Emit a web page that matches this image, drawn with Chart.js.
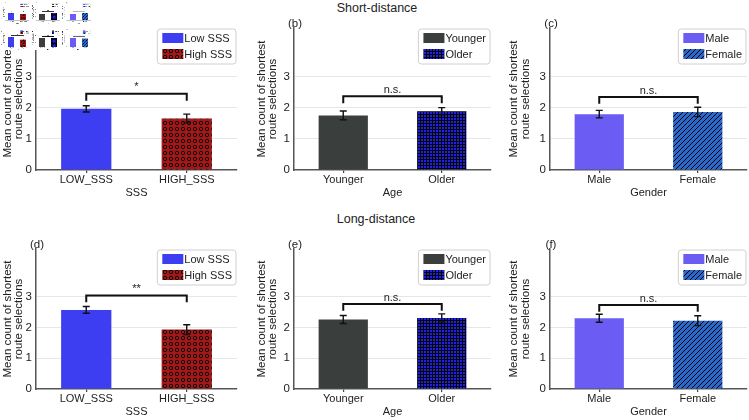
<!DOCTYPE html>
<html>
<head>
<meta charset="utf-8">
<script src="https://cdn.jsdelivr.net/npm/chart.js@4.4.1/dist/chart.umd.min.js"></script>
<style>
  html, body { margin: 0; padding: 0; background: #fff; }
  #fig { position: relative; width: 749px; height: 420px; overflow: hidden; }
  #fig canvas { position: absolute; }
  .rowTitle { position: absolute; font: 12.5px 'Liberation Sans', Arial, sans-serif; color: #222;
              line-height: 16px; transform: translateX(-50%); white-space: nowrap; }
</style>
</head>
<body>
<div id="fig">
  <div class="rowTitle" style="left:377px; top:0px;">Short-distance</div>
  <div class="rowTitle" style="left:376px; top:211px;">Long-distance</div>
</div>
<script>
// categories / legend names
var sssLabels = ['LOW_SSS', 'HIGH_SSS'];
var ageLabels = ['Younger', 'Older'];
var genderLabels = ['Male', 'Female'];
var sssLegend = ['Low SSS', 'High SSS'];
var ageLegend = ['Younger', 'Older'];
var genderLegend = ['Male', 'Female'];
var axisNames = ['SSS', 'Age', 'Gender'];
var panelLetters = ['(a)', '(b)', '(c)', '(d)', '(e)', '(f)'];

// short-distance means and standard errors
var shortSSS = [1.96, 1.65];
var shortSSSErr = [0.10, 0.14];
var shortAge = [1.75, 1.88];
var shortAgeErr = [0.14, 0.12];
var shortGender = [1.79, 1.86];
var shortGenderErr = [0.12, 0.15];

// long-distance means and standard errors
var longSSS = [2.57, 1.93];
var longSSSErr = [0.11, 0.16];
var longAge = [2.26, 2.31];
var longAgeErr = [0.13, 0.13];
var longGender = [2.30, 2.22];
var longGenderErr = [0.13, 0.16];

// significance brackets
var bracketShort = [2.44, 2.36, 2.34];
var bracketLong = [3.04, 2.76, 2.73];
var sigShort = ['*', 'n.s.', 'n.s.'];
var sigLong = ['**', 'n.s.', 'n.s.'];

var yTicks = [0, 1, 2, 3];
var yMax = 4.55;

Chart.defaults.font.family = "'Liberation Sans', Arial, sans-serif";
Chart.defaults.color = '#222';

// fill patterns
var patCtx = document.createElement('canvas').getContext('2d');
function makePattern(bg, size, draw) {
    var c = document.createElement('canvas');
    c.width = size; c.height = size;
    var g = c.getContext('2d');
    g.fillStyle = bg;
    g.fillRect(0, 0, size, size);
    draw(g, size);
    return patCtx.createPattern(c, 'repeat');
}
var dotsPattern = makePattern('#a31818', 6, function (g) {
    g.strokeStyle = '#000'; g.lineWidth = 0.9;
    g.beginPath(); g.arc(3, 3, 1.7, 0, Math.PI * 2); g.stroke();
});
var gridPattern = makePattern('#1f1fe8', 3, function (g) {
    g.fillStyle = '#000';
    g.fillRect(0, 0, 3, 1);
    g.fillRect(0, 0, 1, 3);
});
var diagPattern = makePattern('#2b68cc', 5, function (g) {
    g.strokeStyle = '#000'; g.lineWidth = 1;
    g.beginPath();
    g.moveTo(0, 5); g.lineTo(5, 0);
    g.moveTo(-1, 1); g.lineTo(1, -1);
    g.moveTo(4, 6); g.lineTo(6, 4);
    g.stroke();
});
var sssFills = ['#3d3df2', dotsPattern];
var ageFills = ['#3a3e3d', gridPattern];
var genderFills = ['#6b5df3', diagPattern];

// layout of the six panels
var colLeft = [0, 249, 500];
var colYWidth = [36, 45, 50];
var colPadRight = [12, 7, 2];
var colTitlePad = [2, 7, 8.5];
var rowTop = [0, 215];
var rowHeight = [200, 204];
var rowPadTop = [28, 34];

var panels = [
    {labels: sssLabels, legend: sssLegend, fills: sssFills, means: shortSSS, err: shortSSSErr, bracket: bracketShort[0], sig: sigShort[0]},
    {labels: ageLabels, legend: ageLegend, fills: ageFills, means: shortAge, err: shortAgeErr, bracket: bracketShort[1], sig: sigShort[1]},
    {labels: genderLabels, legend: genderLegend, fills: genderFills, means: shortGender, err: shortGenderErr, bracket: bracketShort[2], sig: sigShort[2]},
    {labels: sssLabels, legend: sssLegend, fills: sssFills, means: longSSS, err: longSSSErr, bracket: bracketLong[0], sig: sigLong[0]},
    {labels: ageLabels, legend: ageLegend, fills: ageFills, means: longAge, err: longAgeErr, bracket: bracketLong[1], sig: sigLong[1]},
    {labels: genderLabels, legend: genderLegend, fills: genderFills, means: longGender, err: longGenderErr, bracket: bracketLong[2], sig: sigLong[2]}
];

// error bars, significance bracket, panel letter, legend box
var extras = {
    id: 'extras',
    afterDraw: function (chart, args, o) {
        var ctx = chart.ctx, area = chart.chartArea;
        var xs = chart.scales.x, ys = chart.scales.y;
        var means = chart.data.datasets[0].data;
        ctx.save();

        ctx.strokeStyle = '#111';
        ctx.lineWidth = 1.4;
        o.err.forEach(function (e, i) {
            var px = xs.getPixelForValue(i);
            var t = ys.getPixelForValue(means[i] + e), b = ys.getPixelForValue(means[i] - e);
            ctx.beginPath();
            ctx.moveTo(px, t); ctx.lineTo(px, b);
            ctx.moveTo(px - 3.5, t); ctx.lineTo(px + 3.5, t);
            ctx.moveTo(px - 3.5, b); ctx.lineTo(px + 3.5, b);
            ctx.stroke();
        });

        var x0 = xs.getPixelForValue(0), x1 = xs.getPixelForValue(1);
        var by = ys.getPixelForValue(o.bracket), ly = ys.getPixelForValue(o.bracket - 0.22);
        ctx.lineWidth = 2;
        ctx.beginPath();
        ctx.moveTo(x0, ly); ctx.lineTo(x0, by); ctx.lineTo(x1, by); ctx.lineTo(x1, ly);
        ctx.stroke();
        ctx.fillStyle = '#222';
        ctx.font = "11px 'Liberation Sans', Arial, sans-serif";
        ctx.textAlign = 'center';
        ctx.textBaseline = 'bottom';
        ctx.fillText(o.sig, (x0 + x1) / 2, by - 1);

        ctx.font = "11.5px 'Liberation Sans', Arial, sans-serif";
        ctx.textBaseline = 'alphabetic';
        ctx.fillText(o.letter, area.left + 1, area.top - 1);

        // legend
        ctx.font = "11px 'Liberation Sans', Arial, sans-serif";
        var tw = Math.max.apply(null, o.legend.map(function (s) { return ctx.measureText(s).width; }));
        var bw = 5 + 21 + 1 + tw + 4, bh = 35;
        var bx = area.right - 1 - bw, bt = area.top + 1;
        ctx.beginPath();
        ctx.roundRect(bx, bt, bw, bh, 3);
        ctx.fillStyle = 'rgba(255,255,255,0.85)';
        ctx.fill();
        ctx.strokeStyle = '#d0d0d0';
        ctx.lineWidth = 1;
        ctx.stroke();
        ctx.textAlign = 'left';
        ctx.textBaseline = 'middle';
        o.legend.forEach(function (s, i) {
            var cy = bt + 9 + i * 16;
            ctx.fillStyle = chart.data.datasets[0].backgroundColor[i];
            ctx.fillRect(bx + 5, cy - 5, 21, 10);
            ctx.fillStyle = '#222';
            ctx.fillText(s, bx + 27, cy + 0.5);
        });
        ctx.restore();
    }
};

var fig = document.getElementById('fig');
var canvases = [];
panels.forEach(function (p, k) {
    var col = k % 3, row = Math.floor(k / 3);
    var cv = document.createElement('canvas');
    cv.width = 249; cv.height = rowHeight[row];
    cv.style.left = colLeft[col] + 'px';
    cv.style.top = rowTop[row] + 'px';
    fig.appendChild(cv);
    canvases.push({cv: cv, x: colLeft[col], y: rowTop[row]});

    new Chart(cv, {
        type: 'bar',
        data: {
            labels: p.labels,
            datasets: [{
                data: p.means,
                backgroundColor: p.fills,
                borderWidth: 0,
                barPercentage: 0.5,
                categoryPercentage: 1.0
            }]
        },
        options: {
            responsive: false,
            animation: false,
            layout: {padding: {top: rowPadTop[row], right: colPadRight[col], bottom: 0.8, left: 0}},
            plugins: {
                legend: {display: false},
                tooltip: {enabled: false},
                extras: {err: p.err, bracket: p.bracket, sig: p.sig, letter: panelLetters[k], legend: p.legend}
            },
            scales: {
                x: {
                    offset: true,
                    grid: {display: true, drawOnChartArea: false, offset: false, tickLength: 3, color: '#444', lineWidth: 1.2},
                    border: {color: '#555', width: 1.5},
                    ticks: {font: {size: 11, lineHeight: 1}, color: '#222', padding: 1},
                    title: {display: true, text: axisNames[col], font: {size: 11, lineHeight: 1.2}, padding: 0, color: '#222'}
                },
                y: {
                    min: 0,
                    max: yMax,
                    afterBuildTicks: function (s) { s.ticks = yTicks.map(function (v) { return {value: v}; }); },
                    afterFit: function (s) { s.width = colYWidth[col]; },
                    ticks: {font: {size: 11.5}, color: '#222', padding: 4},
                    grid: {
                        drawTicks: false,
                        color: function (c) { return c.tick && c.tick.value > 0 ? '#e6e6e6' : 'rgba(0,0,0,0)'; },
                        lineWidth: 1
                    },
                    border: {color: '#555', width: 1.5},
                    title: {
                        display: true,
                        text: ['Mean count of shortest', 'route selections'],
                        font: {size: 11.5, lineHeight: 1},
                        padding: {top: colTitlePad[col], bottom: 0},
                        color: '#222'
                    }
                }
            }
        },
        plugins: [extras]
    });
});

// small preview thumbnail in the top-left corner
var thumb = document.createElement('canvas');
thumb.width = 92; thumb.height = 50;
thumb.style.left = '0px'; thumb.style.top = '0px'; thumb.style.zIndex = 5;
var tg = thumb.getContext('2d');
tg.fillStyle = '#fff';
tg.fillRect(0, 0, 92, 50);
var sc = 0.12;
canvases.forEach(function (c) {
    tg.drawImage(c.cv, 1 + c.x * sc, c.y * sc, c.cv.width * sc, c.cv.height * sc);
});
fig.appendChild(thumb);
</script>
</body>
</html>
